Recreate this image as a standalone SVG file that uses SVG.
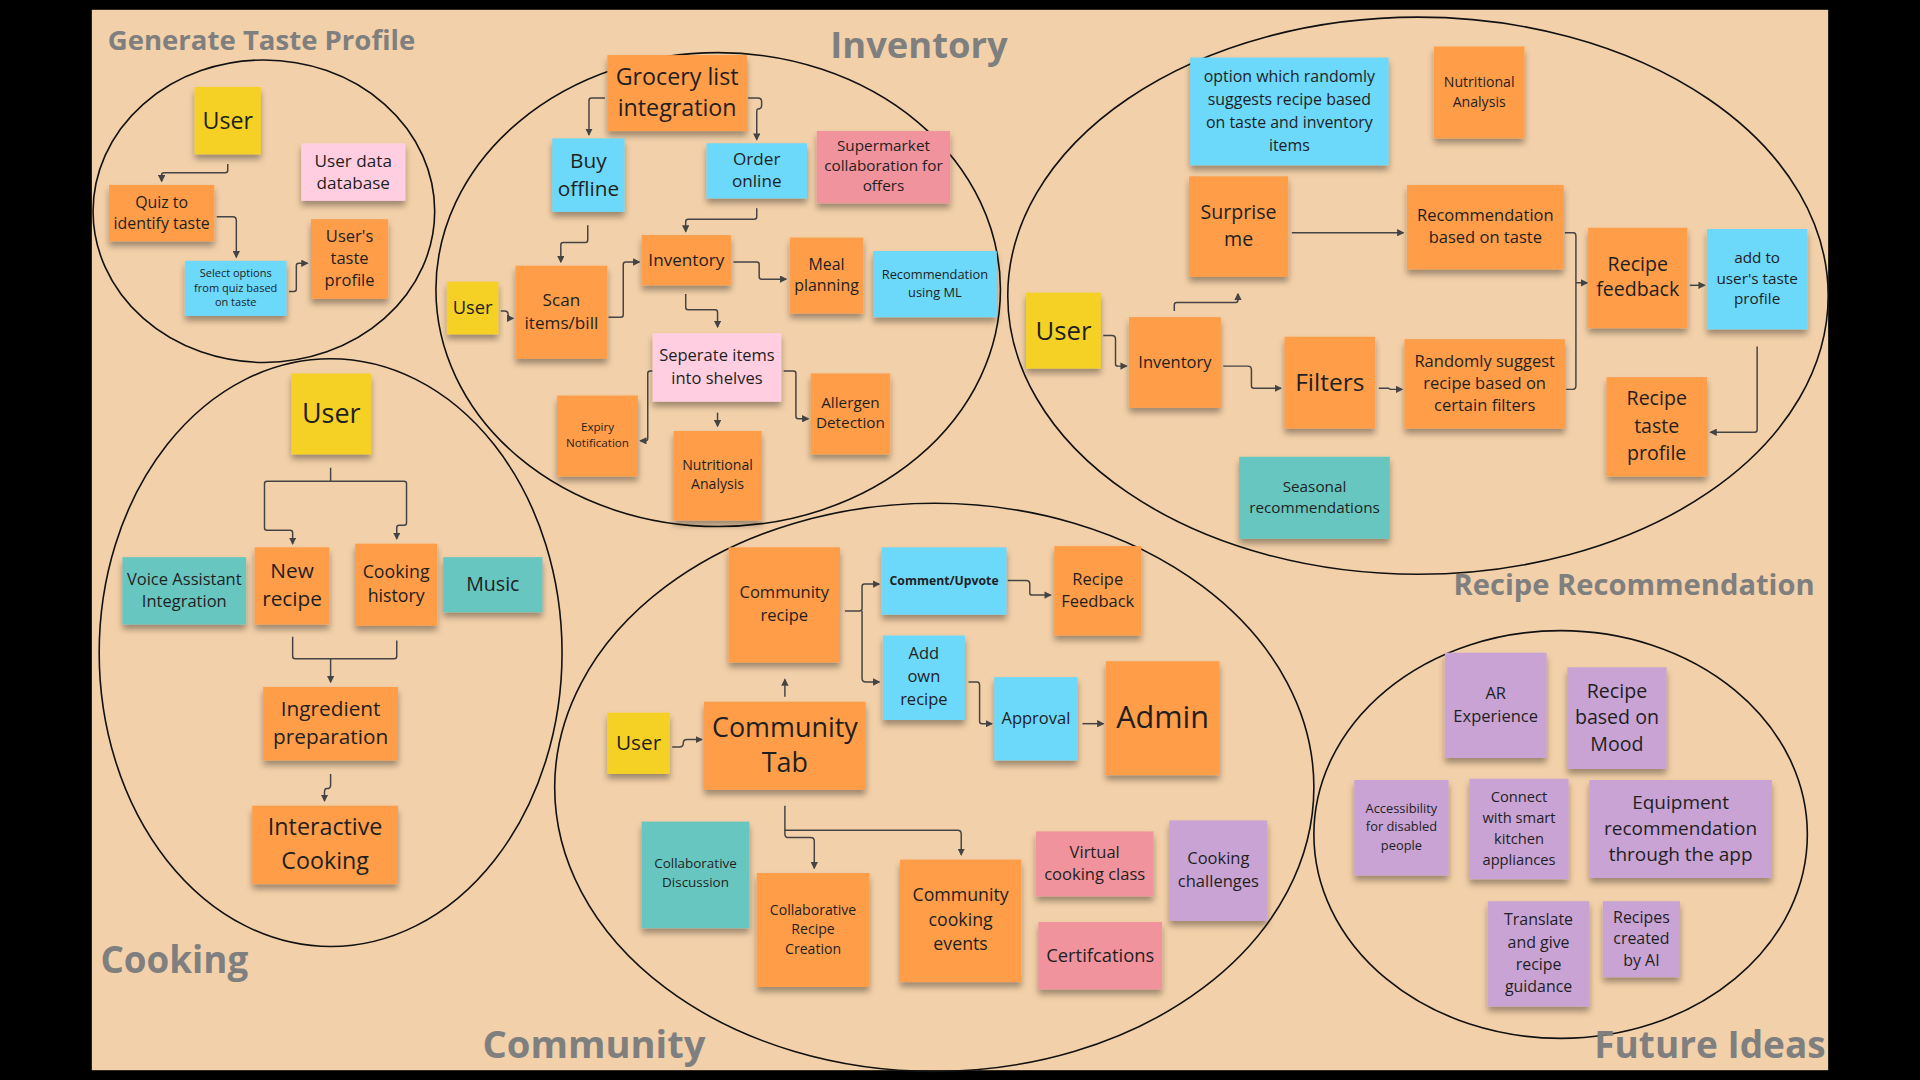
<svg xmlns="http://www.w3.org/2000/svg" width="1920" height="1080" viewBox="0 0 1920 1080">
<defs>
<filter id="sh" x="-10%" y="-10%" width="120%" height="130%">
<feDropShadow dx="0" dy="4" stdDeviation="2.5" flood-color="#000" flood-opacity="0.35"/>
</filter>
<marker id="ar" viewBox="0 0 6 6" refX="5" refY="3" markerWidth="6" markerHeight="6" orient="auto" markerUnits="userSpaceOnUse">
<path d="M0,0 L6,3 L0,6 z" fill="#444"/>
</marker>
</defs>
<style>
.o{fill:#ff9d48}.y{fill:#f5d128}.b{fill:#6cd8fa}.p{fill:#ffcee0}.r{fill:#f1939d}.t{fill:#67c6c0}.v{fill:#c8a3d4}
rect.n{filter:url(#sh)}
text{font-family:"Open Sans","Noto Sans","Liberation Sans",sans-serif;fill:#1f1f1f;text-anchor:middle}
text.h{fill:#7f7f7f;font-weight:bold;text-anchor:start}
.e{fill:none;stroke:#111;stroke-width:1.3}
.c path{fill:none;stroke:#444;stroke-width:1.2;marker-end:url(#ar)}
</style>
<rect width="1920" height="1080" fill="#000"/>
<g transform="scale(1.2244898)">
<rect x="75" y="8" width="1418" height="866" fill="#f2d0a9"/>
<g id="regions">
<ellipse class="e" cx="215.5" cy="172.5" rx="139.5" ry="123.5"/>
<ellipse class="e" cx="586.5" cy="236.5" rx="230.5" ry="193.5"/>
<ellipse class="e" cx="1158" cy="241.5" rx="335" ry="227.5"/>
<ellipse class="e" cx="270" cy="533" rx="189" ry="240"/>
<ellipse class="e" cx="763" cy="643" rx="310" ry="232"/>
<ellipse class="e" cx="1274.5" cy="681.5" rx="201.5" ry="166.5"/>
</g>
<g id="titles">
<text class="h" x="88" y="41" font-size="22.5">Generate Taste Profile</text>
<text class="h" x="678" y="47" font-size="29.7">Inventory</text>
<text class="h" x="1187" y="486" font-size="23.8">Recipe Recommendation</text>
<text class="h" x="82" y="795" font-size="30">Cooking</text>
<text class="h" x="394" y="864" font-size="31.2">Community</text>
<text class="h" x="1302" y="864" font-size="30.2">Future Ideas</text>
</g>
<g class="c" id="connectors">
<path d="M186 134 V139 Q186 141 184 141 H134 Q132 141 132 143 V148"/>
<path d="M177 177 H190 Q193 177 193 180 V210"/>
<path d="M236 238 H240 Q242 238 242 236 V217 Q242 215 244 215 H251"/>
<path d="M494 80 H483 Q481 80 481 82 V110"/>
<path d="M611 80 H619 Q622 80 622 83 V86 Q622 89 619 89 Q618 89 618 92 V114"/>
<path d="M618 170 V177 Q618 179 616 179 H562 Q560 179 560 181 V189"/>
<path d="M480 184 V196 Q480 198 478 198 H460 Q458 198 458 200 V214"/>
<path d="M409 254 H412 Q415 254 415 257 Q415 260 418 260 H419"/>
<path d="M497 259 H507 Q509 259 509 257 V216 Q509 214 511 214 H522"/>
<path d="M599 214 H618 Q620 214 620 216 V226 Q620 228 622 228 H642"/>
<path d="M560 240 V251 Q560 253 562 253 H584 Q586 253 586 255 V267"/>
<path d="M533 303 H531 Q529 303 529 305 V358 Q529 360 527 360 H523"/>
<path d="M586 337 V348"/>
<path d="M640 303 H648 Q650 303 650 305 V340 Q650 342 652 342 H660"/>
<path d="M901 274 H908 Q911 274 911 277 V297 Q911 299 913 299 H920"/>
<path d="M959 254 V249 Q959 247 961 247 H1009 Q1011 247 1011 245 V240"/>
<path d="M999 299 H1019 Q1022 299 1022 302 V315 Q1022 317 1024 317 H1046"/>
<path d="M1126 317 H1134 Q1135 318 1136 318 H1145"/>
<path d="M1055 190 H1146"/>
<path d="M1278 190 H1285 Q1287 190 1287 193 V315 Q1287 318 1284 318 H1279 M1287 231 H1296"/>
<path d="M1380 233 H1392"/>
<path d="M1435 283 V351 Q1435 353 1433 353 H1397"/>
<path d="M270 382 V393 H218 Q216 393 216 395 V431 Q216 433 218 433 H237 Q239 433 239 435 V444"/>
<path d="M270 393 H330 Q332 393 332 395 V427 Q332 429 330 429 H326 Q324 429 324 431 V440"/>
<path d="M239 520 V536 Q239 538 241 538 H322 Q324 538 324 536 V523 M270 538 V557"/>
<path d="M270 632 V641 Q270 644 267 644 Q265 644 265 647 V654"/>
<path d="M690 499 H702 Q704 499 704 497 V479 Q704 477 706 477 H718"/>
<path d="M704 499 V554 Q704 557 707 557 H718"/>
<path d="M791 557 H798 Q800 557 800 560 V589 Q800 591 802 591 H810"/>
<path d="M884 591 H901"/>
<path d="M823 474 H838 Q841 474 841 477 V484 Q841 486 843 486 H858"/>
<path d="M641 569 V555"/>
<path d="M549 610 H555 Q558 610 558 607 Q558 604 561 604 H573"/>
<path d="M641 658 V678 H782 Q785 678 785 681 V698"/>
<path d="M641 678 V681 Q641 684 644 684 H662 Q665 684 665 687 V709"/>
</g>

<g id="gtp-user"><rect class="n y" x="159" y="71" width="54" height="55"/><text font-size="19"><tspan x="186" y="105">User</tspan></text></g>
<g id="gtp-db"><rect class="n p" x="246" y="117" width="85" height="47"/><text font-size="14"><tspan x="288.5" y="136">User data</tspan><tspan x="288.5" y="154.6">database</tspan></text></g>
<g id="gtp-quiz"><rect class="n o" x="89" y="151" width="86" height="46"/><text font-size="13"><tspan x="132" y="169.7">Quiz to</tspan><tspan x="132" y="187">identify taste</tspan></text></g>
<g id="gtp-select"><rect class="n b" x="151" y="213" width="83" height="45"/><text font-size="9"><tspan x="192.5" y="226.2">Select options</tspan><tspan x="192.5" y="238.2">from quiz based</tspan><tspan x="192.5" y="250.2">on taste</tspan></text></g>
<g id="gtp-profile"><rect class="n o" x="254" y="179" width="63" height="65"/><text font-size="13.5"><tspan x="285.5" y="197.6">User's</tspan><tspan x="285.5" y="215.6">taste</tspan><tspan x="285.5" y="233.6">profile</tspan></text></g>

<g id="inv-grocery"><rect class="n o" x="496" y="45" width="114" height="62"/><text font-size="19"><tspan x="553" y="69.3">Grocery list</tspan><tspan x="553" y="94.6">integration</tspan></text></g>
<g id="inv-buy"><rect class="n b" x="451" y="113" width="59" height="60"/><text font-size="17"><tspan x="480.5" y="137.3">Buy</tspan><tspan x="480.5" y="159.9">offline</tspan></text></g>
<g id="inv-order"><rect class="n b" x="577" y="117" width="82" height="45"/><text font-size="14"><tspan x="618" y="134.5">Order</tspan><tspan x="618" y="153">online</tspan></text></g>
<g id="inv-super"><rect class="n r" x="667" y="107" width="109" height="59"/><text font-size="12.5"><tspan x="721.5" y="123">Supermarket</tspan><tspan x="721.5" y="139.4">collaboration for</tspan><tspan x="721.5" y="155.8">offers</tspan></text></g>
<g id="inv-user"><rect class="n y" x="365" y="230" width="42" height="43"/><text font-size="15"><tspan x="386" y="256.8">User</tspan></text></g>
<g id="inv-scan"><rect class="n o" x="421" y="217" width="75" height="76"/><text font-size="14"><tspan x="458.5" y="250.3">Scan</tspan><tspan x="458.5" y="268.8">items/bill</tspan></text></g>
<g id="inv-inventory"><rect class="n o" x="524" y="192" width="73" height="41"/><text font-size="14"><tspan x="560.5" y="217.2">Inventory</tspan></text></g>
<g id="inv-meal"><rect class="n o" x="645" y="194" width="60" height="62"/><text font-size="13"><tspan x="675" y="220.2">Meal</tspan><tspan x="675" y="237.3">planning</tspan></text></g>
<g id="inv-ml"><rect class="n b" x="713" y="205" width="101" height="54"/><text font-size="10.5"><tspan x="763.5" y="228.2">Recommendation</tspan><tspan x="763.5" y="242.6">using ML</tspan></text></g>
<g id="inv-sep"><rect class="n p" x="533" y="272" width="105" height="56"/><text font-size="13.5"><tspan x="585.5" y="295.2">Seperate items</tspan><tspan x="585.5" y="313.2">into shelves</tspan></text></g>
<g id="inv-expiry"><rect class="n o" x="455" y="323" width="66" height="66"/><text font-size="9.5"><tspan x="488" y="351.6">Expiry</tspan><tspan x="488" y="365">Notification</tspan></text></g>
<g id="inv-nutri"><rect class="n o" x="550" y="352" width="72" height="73"/><text font-size="11.5"><tspan x="586" y="383.6">Nutritional</tspan><tspan x="586" y="399.3">Analysis</tspan></text></g>
<g id="inv-allergen"><rect class="n o" x="662" y="305" width="65" height="66"/><text font-size="12.5"><tspan x="694.5" y="333">Allergen</tspan><tspan x="694.5" y="349.8">Detection</tspan></text></g>

<g id="rr-option"><rect class="n b" x="972" y="47" width="162" height="88"/><text font-size="13"><tspan x="1053" y="67">option which randomly</tspan><tspan x="1053" y="85.8">suggests recipe based</tspan><tspan x="1053" y="104.6">on taste and inventory</tspan><tspan x="1053" y="123.4">items</tspan></text></g>
<g id="rr-nutri"><rect class="n o" x="1171" y="38" width="74" height="75"/><text font-size="11.5"><tspan x="1208" y="71">Nutritional</tspan><tspan x="1208" y="87">Analysis</tspan></text></g>
<g id="rr-surprise"><rect class="n o" x="971" y="144" width="81" height="82"/><text font-size="16"><tspan x="1011.5" y="179">Surprise</tspan><tspan x="1011.5" y="201">me</tspan></text></g>
<g id="rr-recom"><rect class="n o" x="1149" y="151" width="128" height="69"/><text font-size="13.5"><tspan x="1213" y="180.4">Recommendation</tspan><tspan x="1213" y="198.8">based on taste</tspan></text></g>
<g id="rr-feedback"><rect class="n o" x="1297" y="186" width="81" height="82"/><text font-size="16"><tspan x="1337.5" y="221.5">Recipe</tspan><tspan x="1337.5" y="242">feedback</tspan></text></g>
<g id="rr-add"><rect class="n b" x="1394" y="187" width="82" height="82"/><text font-size="12.5"><tspan x="1435" y="214.8">add to</tspan><tspan x="1435" y="231.6">user's taste</tspan><tspan x="1435" y="248.4">profile</tspan></text></g>
<g id="rr-user"><rect class="n y" x="838" y="239" width="61" height="62"/><text font-size="21"><tspan x="868.5" y="277.4">User</tspan></text></g>
<g id="rr-inventory"><rect class="n o" x="922" y="259" width="75" height="74"/><text font-size="13.5"><tspan x="959.5" y="300.2">Inventory</tspan></text></g>
<g id="rr-filters"><rect class="n o" x="1049" y="275" width="74" height="75"/><text font-size="20"><tspan x="1086" y="319.3">Filters</tspan></text></g>
<g id="rr-random"><rect class="n o" x="1147" y="277" width="131" height="73"/><text font-size="13.5"><tspan x="1212.5" y="299.8">Randomly suggest</tspan><tspan x="1212.5" y="317.8">recipe based on</tspan><tspan x="1212.5" y="335.8">certain filters</tspan></text></g>
<g id="rr-taste"><rect class="n o" x="1312" y="308" width="82" height="81"/><text font-size="16"><tspan x="1353" y="331">Recipe</tspan><tspan x="1353" y="353.3">taste</tspan><tspan x="1353" y="375.6">profile</tspan></text></g>
<g id="rr-seasonal"><rect class="n t" x="1012" y="373" width="123" height="67"/><text font-size="12.5"><tspan x="1073.5" y="401.8">Seasonal</tspan><tspan x="1073.5" y="418.6">recommendations</tspan></text></g>

<g id="ck-user"><rect class="n y" x="238" y="305" width="65" height="66"/><text font-size="22"><tspan x="270.5" y="345.3">User</tspan></text></g>
<g id="ck-voice"><rect class="n t" x="100" y="455" width="101" height="55"/><text font-size="13.5"><tspan x="150.5" y="477.8">Voice Assistant</tspan><tspan x="150.5" y="495.8">Integration</tspan></text></g>
<g id="ck-new"><rect class="n o" x="208" y="447" width="61" height="63"/><text font-size="17"><tspan x="238.5" y="472.3">New</tspan><tspan x="238.5" y="495">recipe</tspan></text></g>
<g id="ck-history"><rect class="n o" x="290" y="444" width="67" height="67"/><text font-size="14.5"><tspan x="323.5" y="472.3">Cooking</tspan><tspan x="323.5" y="492">history</tspan></text></g>
<g id="ck-music"><rect class="n t" x="362" y="455" width="81" height="45"/><text font-size="16"><tspan x="402.5" y="483">Music</tspan></text></g>
<g id="ck-ingredient"><rect class="n o" x="215" y="561" width="110" height="60"/><text font-size="17"><tspan x="270" y="584.5">Ingredient</tspan><tspan x="270" y="608">preparation</tspan></text></g>
<g id="ck-interactive"><rect class="n o" x="206" y="658" width="119" height="64"/><text font-size="19"><tspan x="265.5" y="682">Interactive</tspan><tspan x="265.5" y="709.5">Cooking</tspan></text></g>

<g id="cm-recipe"><rect class="n o" x="595" y="447" width="91" height="94"/><text font-size="13.5"><tspan x="640.5" y="488">Community</tspan><tspan x="640.5" y="507">recipe</tspan></text></g>
<g id="cm-comment"><rect class="n b" x="720" y="447" width="102" height="55"/><text font-size="10" font-weight="bold"><tspan x="771" y="477.5">Comment/Upvote</tspan></text></g>
<g id="cm-feedback"><rect class="n o" x="861" y="446" width="71" height="73"/><text font-size="13.5"><tspan x="896.5" y="477.7">Recipe</tspan><tspan x="896.5" y="495.5">Feedback</tspan></text></g>
<g id="cm-add"><rect class="n b" x="721" y="519" width="67" height="69"/><text font-size="13.5"><tspan x="754.5" y="538">Add</tspan><tspan x="754.5" y="557">own</tspan><tspan x="754.5" y="576">recipe</tspan></text></g>
<g id="cm-approval"><rect class="n b" x="812" y="553" width="68" height="68"/><text font-size="13.5"><tspan x="846" y="591.5">Approval</tspan></text></g>
<g id="cm-admin"><rect class="n o" x="903" y="540" width="93" height="93"/><text font-size="25"><tspan x="949.5" y="594.5">Admin</tspan></text></g>
<g id="cm-user"><rect class="n y" x="496" y="582" width="51" height="50"/><text font-size="17"><tspan x="521.5" y="612.5">User</tspan></text></g>
<g id="cm-tab"><rect class="n o" x="575" y="573" width="132" height="72"/><text font-size="22"><tspan x="641" y="601.8">Community</tspan><tspan x="641" y="630.8">Tab</tspan></text></g>
<g id="cm-discussion"><rect class="n t" x="524" y="671" width="88" height="87"/><text font-size="11"><tspan x="568" y="709.2">Collaborative</tspan><tspan x="568" y="724.6">Discussion</tspan></text></g>
<g id="cm-creation"><rect class="n o" x="618" y="713" width="92" height="93"/><text font-size="11.5"><tspan x="664" y="747">Collaborative</tspan><tspan x="664" y="763">Recipe</tspan><tspan x="664" y="779">Creation</tspan></text></g>
<g id="cm-events"><rect class="n o" x="735" y="702" width="99" height="100"/><text font-size="14.5"><tspan x="784.5" y="735.8">Community</tspan><tspan x="784.5" y="756">cooking</tspan><tspan x="784.5" y="776.2">events</tspan></text></g>
<g id="cm-virtual"><rect class="n r" x="846" y="679" width="96" height="53"/><text font-size="13.5"><tspan x="894" y="700.7">Virtual</tspan><tspan x="894" y="718.7">cooking class</tspan></text></g>
<g id="cm-challenges"><rect class="n v" x="955" y="670" width="80" height="82"/><text font-size="13.5"><tspan x="995" y="706">Cooking</tspan><tspan x="995" y="724">challenges</tspan></text></g>
<g id="cm-cert"><rect class="n r" x="848" y="753" width="101" height="55"/><text font-size="15"><tspan x="898.5" y="785.5">Certifcations</tspan></text></g>

<g id="fi-ar"><rect class="n v" x="1180" y="533" width="83" height="86"/><text font-size="13.5"><tspan x="1221.5" y="571">AR</tspan><tspan x="1221.5" y="589.5">Experience</tspan></text></g>
<g id="fi-mood"><rect class="n v" x="1280" y="545" width="81" height="83"/><text font-size="16"><tspan x="1320.5" y="570">Recipe</tspan><tspan x="1320.5" y="591.5">based on</tspan><tspan x="1320.5" y="613">Mood</tspan></text></g>
<g id="fi-access"><rect class="n v" x="1106" y="637" width="77" height="78"/><text font-size="10.5"><tspan x="1144.5" y="664">Accessibility</tspan><tspan x="1144.5" y="679">for disabled</tspan><tspan x="1144.5" y="694">people</tspan></text></g>
<g id="fi-smart"><rect class="n v" x="1200" y="636" width="81" height="82"/><text font-size="12"><tspan x="1240.5" y="655.2">Connect</tspan><tspan x="1240.5" y="672.2">with smart</tspan><tspan x="1240.5" y="689.2">kitchen</tspan><tspan x="1240.5" y="706.2">appliances</tspan></text></g>
<g id="fi-equip"><rect class="n v" x="1298" y="637" width="149" height="80"/><text font-size="15.5"><tspan x="1372.5" y="660.5">Equipment</tspan><tspan x="1372.5" y="682">recommendation</tspan><tspan x="1372.5" y="703.5">through the app</tspan></text></g>
<g id="fi-translate"><rect class="n v" x="1215" y="736" width="83" height="86"/><text font-size="13"><tspan x="1256.5" y="755.8">Translate</tspan><tspan x="1256.5" y="773.8">and give</tspan><tspan x="1256.5" y="791.8">recipe</tspan><tspan x="1256.5" y="809.8">guidance</tspan></text></g>
<g id="fi-ai"><rect class="n v" x="1309" y="736" width="63" height="62"/><text font-size="13"><tspan x="1340.5" y="753.5">Recipes</tspan><tspan x="1340.5" y="771">created</tspan><tspan x="1340.5" y="788.5">by AI</tspan></text></g>
</g>
</svg>
